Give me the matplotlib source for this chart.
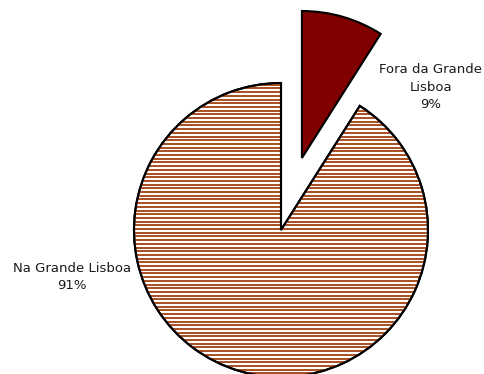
import numpy as np
import matplotlib.pyplot as plt

labels = ['Fora da Grande\nLisboa', 'Na Grande Lisboa']
shares = [9, 91]
colors = ['#800000', 'white']

fig = plt.figure(figsize=(4.85, 3.74), dpi=100)
ax = fig.add_axes([0, 0, 1, 1])

# pie laid out in pixel-like units so the wedge sits where we want it
cx, cy, r = 281, 144, 147
explode = [0.51 * r, 0]  # pie offsets in data units
wedges, _ = ax.pie(shares, explode=explode, colors=colors, radius=r,
                   center=(cx, cy), startangle=90, counterclock=False,
                   wedgeprops=dict(edgecolor='black', linewidth=1.5))
ax.set_xlim(0, 485)
ax.set_ylim(0, 374)
ax.set_aspect('equal')
ax.axis('off')

# horizontal stripe fill on the large slice
big = wedges[1]
ys = np.arange(cy - r, cy + r, 3.7)
stripes = ax.hlines(ys, cx - r - 5, cx + r + 5, colors='#A3400F', linewidth=1.3, zorder=big.get_zorder() + 0.1)
stripes.set_clip_path(big)
outline = plt.matplotlib.patches.Wedge(big.center, big.r, big.theta1, big.theta2,
                                       facecolor='none', edgecolor='black',
                                       linewidth=1.5, zorder=big.get_zorder() + 0.2)
ax.add_patch(outline)

fs = 9.5
ax.text(431, 374 - 87, f"{labels[0]}\n{shares[0]}%", ha='center', va='center',
        fontsize=fs, linespacing=1.45, color='#1a1a1a')
ax.text(72, 374 - 277, f"{labels[1]}\n{shares[1]}%", ha='center', va='center',
        fontsize=fs, linespacing=1.45, color='#1a1a1a')

fig.savefig('out.png', dpi=100)
